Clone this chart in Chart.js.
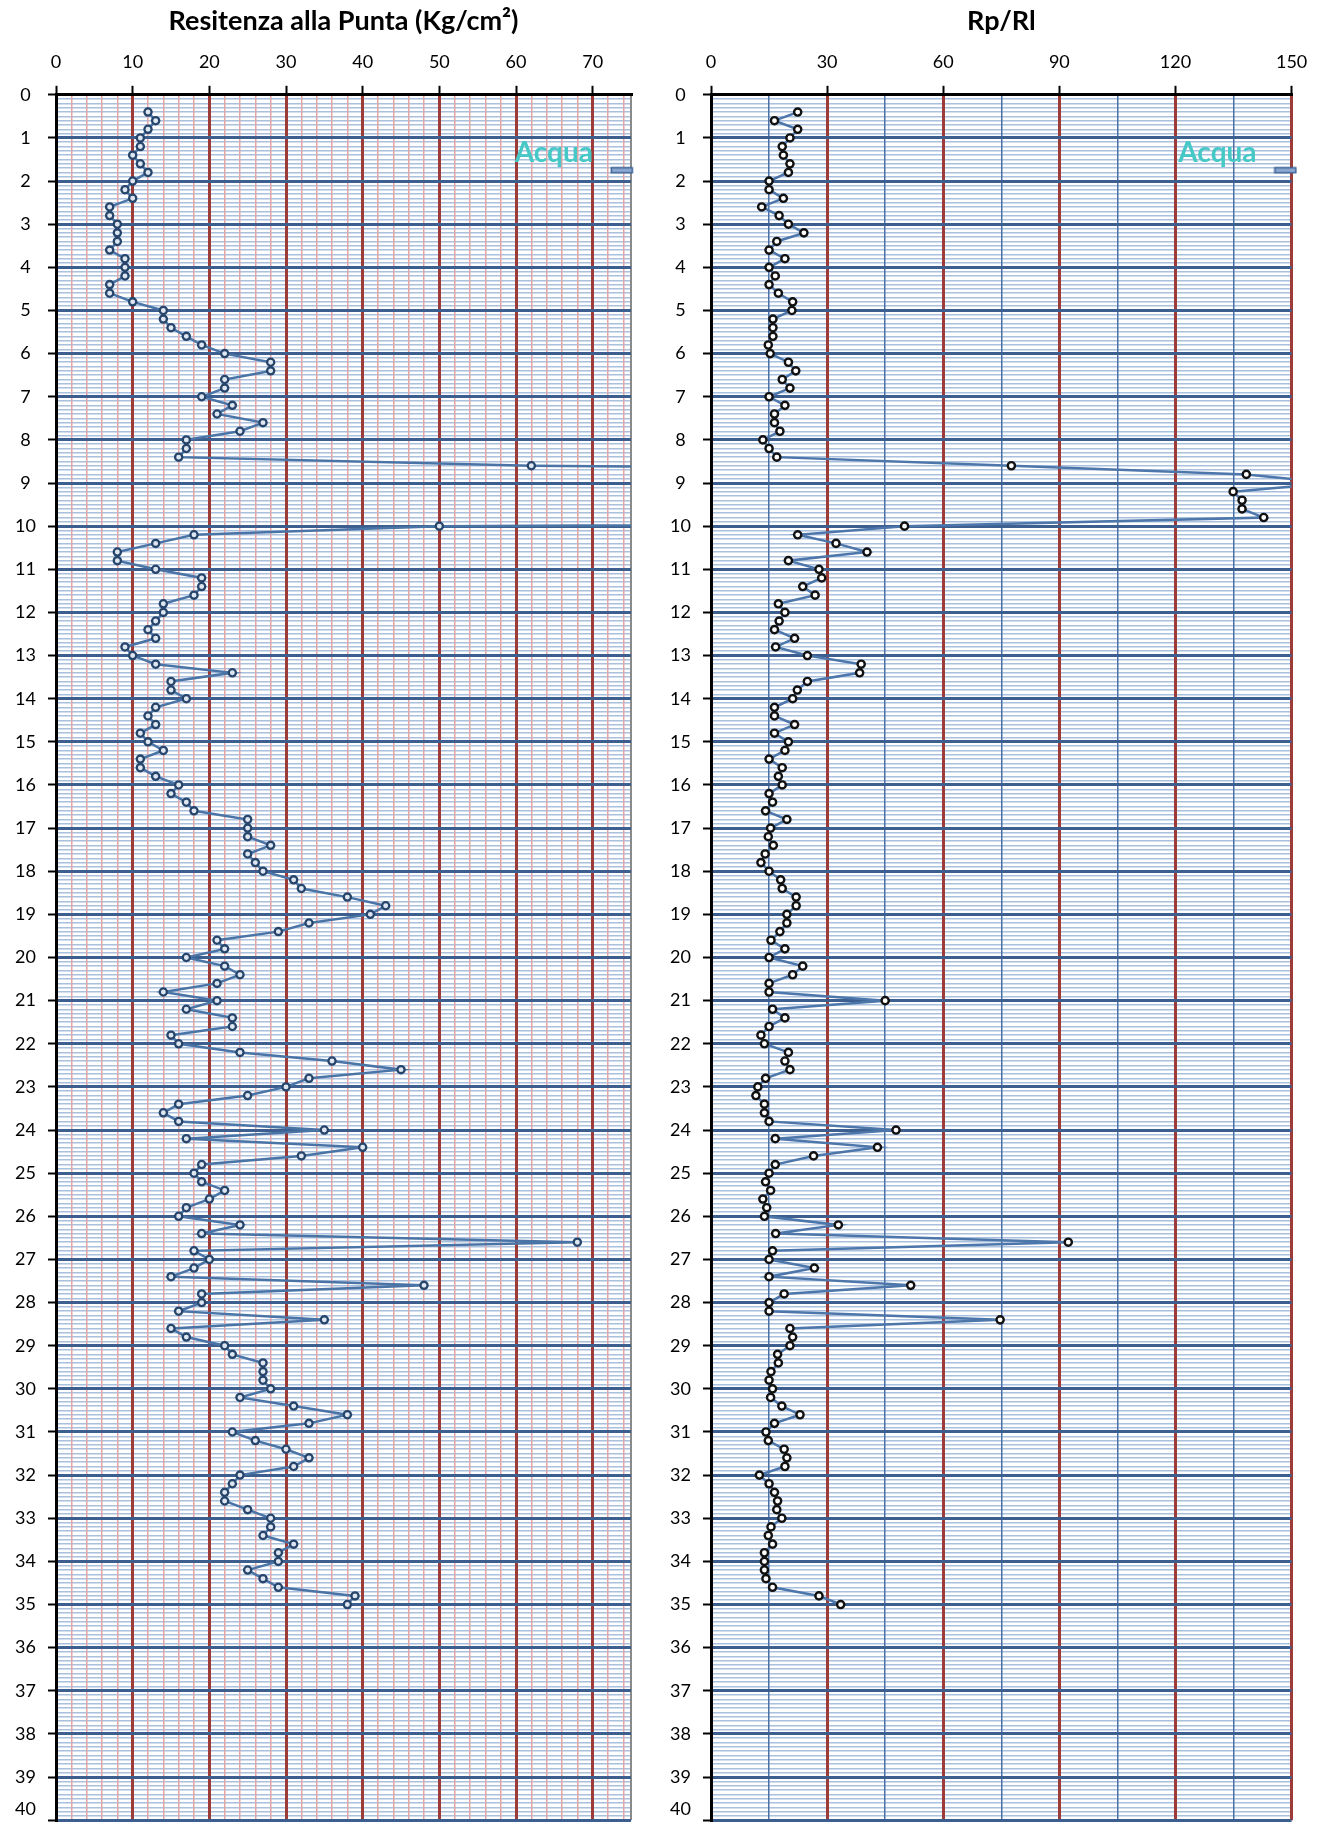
<!DOCTYPE html>
<html>
<head>
<meta charset="utf-8">
<script src="https://cdn.jsdelivr.net/npm/chart.js@4.4.1/dist/chart.umd.min.js"></script>
<style>
  html, body { margin: 0; padding: 0; background: #fff; overflow: hidden; }
  #boxRp { position: absolute; left: 0; top: 0; }
  #boxRpRl { position: absolute; left: 655px; top: 0; }
</style>
</head>
<body>
<div id="boxRp"><canvas id="graficoRp" width="655" height="1843"></canvas></div>
<div id="boxRpRl"><canvas id="graficoRpRl" width="668" height="1843"></canvas></div>
<script>
// profondità delle letture (m)
const profondita = [
  0.4, 0.6, 0.8, 1.0, 1.2, 1.4, 1.6, 1.8, 2.0, 2.2,
  2.4, 2.6, 2.8, 3.0, 3.2, 3.4, 3.6, 3.8, 4.0, 4.2,
  4.4, 4.6, 4.8, 5.0, 5.2, 5.4, 5.6, 5.8, 6.0, 6.2,
  6.4, 6.6, 6.8, 7.0, 7.2, 7.4, 7.6, 7.8, 8.0, 8.2,
  8.4, 8.6, 8.8, 9.0, 9.2, 9.4, 9.6, 9.8, 10.0, 10.2,
  10.4, 10.6, 10.8, 11.0, 11.2, 11.4, 11.6, 11.8, 12.0, 12.2,
  12.4, 12.6, 12.8, 13.0, 13.2, 13.4, 13.6, 13.8, 14.0, 14.2,
  14.4, 14.6, 14.8, 15.0, 15.2, 15.4, 15.6, 15.8, 16.0, 16.2,
  16.4, 16.6, 16.8, 17.0, 17.2, 17.4, 17.6, 17.8, 18.0, 18.2,
  18.4, 18.6, 18.8, 19.0, 19.2, 19.4, 19.6, 19.8, 20.0, 20.2,
  20.4, 20.6, 20.8, 21.0, 21.2, 21.4, 21.6, 21.8, 22.0, 22.2,
  22.4, 22.6, 22.8, 23.0, 23.2, 23.4, 23.6, 23.8, 24.0, 24.2,
  24.4, 24.6, 24.8, 25.0, 25.2, 25.4, 25.6, 25.8, 26.0, 26.2,
  26.4, 26.6, 26.8, 27.0, 27.2, 27.4, 27.6, 27.8, 28.0, 28.2,
  28.4, 28.6, 28.8, 29.0, 29.2, 29.4, 29.6, 29.8, 30.0, 30.2,
  30.4, 30.6, 30.8, 31.0, 31.2, 31.4, 31.6, 31.8, 32.0, 32.2,
  32.4, 32.6, 32.8, 33.0, 33.2, 33.4, 33.6, 33.8, 34.0, 34.2,
  34.4, 34.6, 34.8, 35.0
];

// resistenza alla punta (Kg/cm²) - tra 8.8 e 9.8 m fuori scala
const resistenzaPunta = [
  12, 13, 12, 11, 11, 10, 11, 12, 10, 9,
  10, 7, 7, 8, 8, 8, 7, 9, 9, 9,
  7, 7, 10, 14, 14, 15, 17, 19, 22, 28,
  28, 22, 22, 19, 23, 21, 27, 24, 17, 17,
  16, 62, 230, 260, 250, 260, 270, 300, 50, 18,
  13, 8, 8, 13, 19, 19, 18, 14, 14, 13,
  12, 13, 9, 10, 13, 23, 15, 15, 17, 13,
  12, 13, 11, 12, 14, 11, 11, 13, 16, 15,
  17, 18, 25, 25, 25, 28, 25, 26, 27, 31,
  32, 38, 43, 41, 33, 29, 21, 22, 17, 22,
  24, 21, 14, 21, 17, 23, 23, 15, 16, 24,
  36, 45, 33, 30, 25, 16, 14, 16, 35, 17,
  40, 32, 19, 18, 19, 22, 20, 17, 16, 24,
  19, 68, 18, 20, 18, 15, 48, 19, 19, 16,
  35, 15, 17, 22, 23, 27, 27, 27, 28, 24,
  31, 38, 33, 23, 26, 30, 33, 31, 24, 23,
  22, 22, 25, 28, 28, 27, 31, 29, 29, 25,
  27, 29, 39, 38
];

// rapporto Rp/Rl
const rapportoRpRl = [
  22.4, 16.4, 22.4, 20.4, 18.4, 18.7, 20.4, 20.0, 15.0, 15.0,
  18.7, 13.1, 17.6, 20.0, 24.0, 17.0, 15.0, 19.1, 15.0, 16.6,
  15.0, 17.4, 21.1, 20.9, 16.0, 16.0, 16.0, 14.8, 15.3, 20.0,
  21.9, 18.4, 20.4, 15.0, 19.1, 16.4, 16.4, 17.8, 13.4, 15.0,
  17.0, 77.6, 138.3, 160.0, 134.9, 137.2, 137.2, 142.8, 50.0, 22.4,
  32.3, 40.3, 20.0, 27.9, 28.6, 23.7, 26.9, 17.4, 19.1, 17.6,
  16.4, 21.6, 16.7, 24.9, 38.8, 38.4, 24.9, 22.3, 21.1, 16.4,
  16.4, 21.6, 16.4, 20.0, 19.1, 15.0, 18.4, 17.4, 18.4, 15.0,
  15.9, 14.1, 19.6, 15.4, 14.8, 16.1, 14.0, 12.9, 15.0, 18.0,
  18.4, 22.0, 22.0, 19.6, 19.6, 17.8, 15.5, 19.1, 15.0, 23.7,
  21.1, 15.0, 15.0, 45.0, 15.9, 19.1, 15.0, 12.9, 13.8, 20.0,
  19.1, 20.4, 14.1, 12.1, 11.6, 13.8, 13.8, 15.0, 47.8, 16.6,
  43.0, 26.5, 16.6, 15.0, 14.1, 15.4, 13.4, 14.4, 13.8, 32.9,
  16.7, 92.3, 15.9, 15.0, 26.7, 15.0, 51.6, 18.9, 15.0, 15.0,
  74.7, 20.4, 21.1, 20.4, 17.2, 17.4, 15.5, 15.0, 15.9, 15.4,
  18.3, 23.0, 16.4, 14.2, 14.8, 18.9, 19.6, 19.1, 12.5, 15.0,
  16.4, 17.2, 17.0, 18.3, 15.5, 14.8, 15.9, 13.8, 13.8, 13.8,
  14.2, 15.9, 27.9, 33.5
];

// etichette degli assi
const tickProfondita = [0, 1, 2, 3, 4, 5, 6, 7, 8, 9, 10, 11, 12, 13, 14, 15, 16, 17, 18, 19, 20,
  21, 22, 23, 24, 25, 26, 27, 28, 29, 30, 31, 32, 33, 34, 35, 36, 37, 38, 39, 40];
const tickRp = [0, 10, 20, 30, 40, 50, 60, 70];
const tickRpRl = [0, 30, 60, 90, 120, 150];

// livello della falda
const acquaTesto = "Acqua";
const acquaProfondita = 1.75;
const acquaRp = 73.8;
const acquaRpRl = 148.4;

Chart.defaults.font.family = "Lato";
Chart.defaults.color = "#000";

function eMultiplo(v, lista) {
    return lista.some(t => Math.abs(t - v) < 1e-6);
}

// piccolo trattino usato come marcatore della falda
function creaTrattino() {
    const c = document.createElement("canvas");
    c.width = 24;
    c.height = 8;
    const g = c.getContext("2d");
    g.fillStyle = "#8eaad2";
    g.strokeStyle = "#3d6396";
    g.lineWidth = 1.5;
    g.fillRect(1.5, 1.5, 21, 5);
    g.strokeRect(1.5, 1.5, 21, 5);
    return c;
}

const pluginAcqua = {
    id: "acqua",
    afterDatasetsDraw(chart) {
        const p = chart.getDatasetMeta(1).data[0];
        if (!p) return;
        const ctx = chart.ctx;
        ctx.save();
        ctx.font = "bold 28px Lato";
        ctx.fillStyle = "#46c8c6";
        ctx.textAlign = "center";
        ctx.textBaseline = "middle";
        ctx.fillText(acquaTesto, p.x - 68, p.y - 17);
        ctx.restore();
    }
};

// griglia fine ogni 0.1 m (solo linee, sotto a tutto)
function asseProFine() {
    return {
        type: "linear",
        position: "left",
        reverse: true,
        min: 0,
        max: 40,
        afterFit: s => { s.width = 0; },
        afterBuildTicks: s => {
            const t = [];
            for (let i = 0; i <= 400; i++) {
                if (i % 10 !== 0) t.push({ value: i / 10 });
            }
            s.ticks = t;
        },
        ticks: { display: false, autoSkip: false },
        grid: { z: -2, drawTicks: false, color: "#a9c0de", lineWidth: 1.5 },
        border: { display: false }
    };
}

// asse principale della profondità
function assePro() {
    const ultimo = tickProfondita[tickProfondita.length - 1];
    return {
        type: "linear",
        position: "left",
        reverse: true,
        min: 0,
        max: 40,
        afterFit: s => { s.width = 56; },
        afterBuildTicks: s => { s.ticks = tickProfondita.map(v => ({ value: v })); },
        ticks: {
            autoSkip: false,
            crossAlign: "center",
            padding: 12,
            font: { size: 18 },
            color: "#000",
            // l'ultima etichetta resta dentro al riquadro
            callback: v => v === ultimo ? [String(v), ""] : String(v)
        },
        grid: {
            tickLength: 8,
            color: "#3c5f8f",
            lineWidth: 3,
            tickColor: "#000",
            tickWidth: 2
        },
        border: { color: "#000", width: 3 }
    };
}

function creaGrafico(idCanvas, cfg) {
    const ctx = document.getElementById(idCanvas).getContext("2d");
    return new Chart(ctx, {
        type: "scatter",
        data: {
            datasets: [
                {
                    data: profondita.map((d, i) => ({ x: cfg.valori[i], y: d })),
                    xAxisID: "x",
                    yAxisID: "y",
                    showLine: true,
                    borderColor: cfg.colLinea,
                    borderWidth: 2.5,
                    pointRadius: 3.6,
                    pointBorderWidth: cfg.bordoPunto,
                    pointBorderColor: cfg.colPunto,
                    pointBackgroundColor: cfg.fondoPunto
                },
                {
                    data: [{ x: cfg.acquaX, y: acquaProfondita }],
                    xAxisID: "x",
                    yAxisID: "y",
                    showLine: false,
                    pointStyle: creaTrattino(),
                    pointRadius: 4,
                    clip: false
                }
            ]
        },
        options: {
            responsive: false,
            animation: false,
            events: [],
            layout: { padding: { left: 0, right: cfg.padDestra, top: 0, bottom: 0 } },
            plugins: {
                legend: { display: false },
                tooltip: { enabled: false },
                title: {
                    display: true,
                    text: cfg.titolo,
                    fullSize: false,
                    color: "#000",
                    font: { size: 27, weight: "bold" },
                    padding: { top: 5, bottom: 5 }
                }
            },
            scales: {
                yFine: asseProFine(),
                x: {
                    type: "linear",
                    position: "top",
                    min: 0,
                    max: cfg.max,
                    afterFit: s => { s.height = 52.4; },
                    afterBuildTicks: s => {
                        const t = [];
                        for (let v = 0; v <= cfg.max; v += cfg.passo) t.push({ value: v });
                        if (t[t.length - 1].value !== cfg.max) t.push({ value: cfg.max });
                        s.ticks = t;
                    },
                    ticks: {
                        autoSkip: false,
                        maxRotation: 0,
                        padding: 13,
                        font: { size: 18 },
                        color: "#000",
                        callback: v => eMultiplo(v, cfg.etichette) ? String(v) : ""
                    },
                    grid: {
                        z: -1,
                        tickLength: 9,
                        color: c => cfg.coloreGriglia(c.tick.value),
                        lineWidth: c => cfg.spessoreGriglia(c.tick.value),
                        tickColor: c => eMultiplo(c.tick.value, cfg.etichette) ? "#000" : "rgba(0,0,0,0)",
                        tickWidth: 2
                    },
                    border: { color: "#000", width: 3 }
                },
                y: assePro()
            }
        },
        plugins: [pluginAcqua]
    });
}

// 1) Resistenza alla punta
creaGrafico("graficoRp", {
    titolo: "Resitenza alla Punta (Kg/cm²)",
    valori: resistenzaPunta,
    max: 75,
    passo: 2,
    etichette: tickRp,
    acquaX: acquaRp,
    padDestra: 24,
    colLinea: "#4a74a6",
    colPunto: "#27456b",
    fondoPunto: "#dde6f1",
    bordoPunto: 2.3,
    coloreGriglia: v => v === 75 ? "#8a8a8a" : (eMultiplo(v, tickRp) ? "#9c3b37" : "#e3a6a6"),
    spessoreGriglia: v => v === 75 ? 2 : (eMultiplo(v, tickRp) ? 3 : 1.5)
});

// 2) Rapporto Rp/Rl
creaGrafico("graficoRpRl", {
    titolo: "Rp/Rl",
    valori: rapportoRpRl,
    max: 150,
    passo: 15,
    etichette: tickRpRl,
    acquaX: acquaRpRl,
    padDestra: 31.4,
    colLinea: "#4d76aa",
    colPunto: "#111111",
    fondoPunto: "#ffffff",
    bordoPunto: 2.4,
    coloreGriglia: v => eMultiplo(v, tickRpRl) ? "#9c3b37" : "#4b70a6",
    spessoreGriglia: v => eMultiplo(v, tickRpRl) ? 3 : 1.5
});
</script>
</body>
</html>
